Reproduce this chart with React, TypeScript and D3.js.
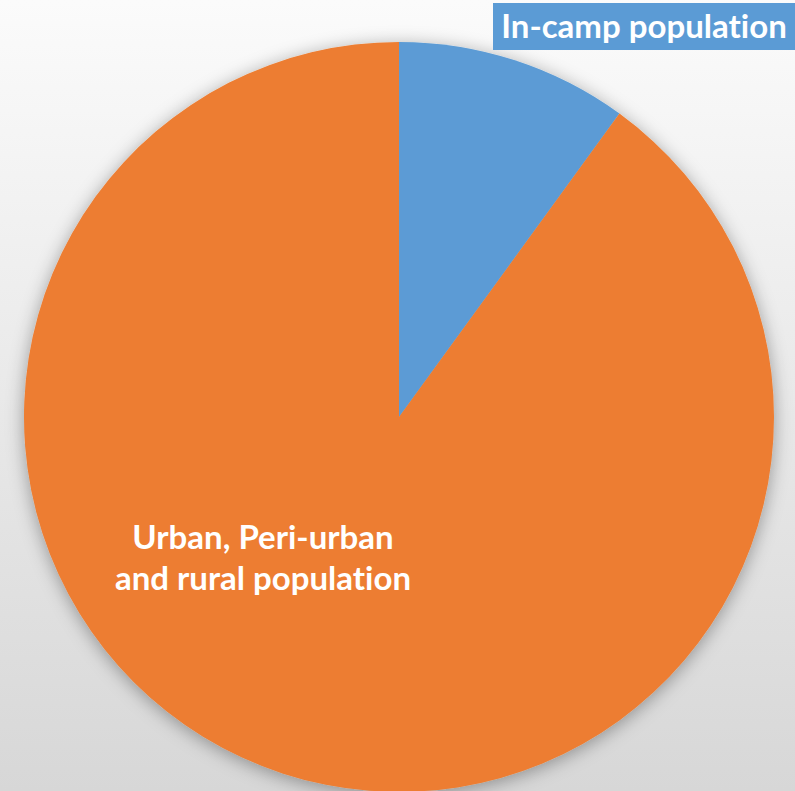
import React, { useEffect, useRef } from 'react';
import * as d3 from 'd3';

const categories = ['In-camp population', 'Urban, Peri-urban and rural population'];
const values = [10, 90];
const colors = ['#5B9BD5', '#ED7D31'];

const W = 795;
const H = 791;

const App = () => {
  const svgRef = useRef<SVGSVGElement>(null);

  useEffect(() => {
    const svg = d3.select(svgRef.current);
    svg.selectAll('*').remove();

    const defs = svg.append('defs');
    const bg = defs.append('linearGradient')
      .attr('id', 'bg')
      .attr('x1', 0).attr('y1', 0).attr('x2', 0).attr('y2', 1);
    bg.append('stop').attr('offset', '0%').attr('stop-color', '#fbfbfb');
    bg.append('stop').attr('offset', '100%').attr('stop-color', '#d7d7d7');

    const shadow = defs.append('filter')
      .attr('id', 'shadow')
      .attr('x', '-20%').attr('y', '-20%').attr('width', '140%').attr('height', '140%');
    shadow.append('feDropShadow')
      .attr('dx', 0).attr('dy', 3)
      .attr('stdDeviation', 9)
      .attr('flood-color', '#000')
      .attr('flood-opacity', 0.35);

    svg.append('rect')
      .attr('width', W).attr('height', H)
      .attr('fill', 'url(#bg)');

    const cx = 399;
    const cy = 417;
    const r = 375;

    const pie = d3.pie<number>().sort(null).value(d => d);
    const arc = d3.arc<d3.PieArcDatum<number>>().innerRadius(0).outerRadius(r);

    const g = svg.append('g')
      .attr('transform', `translate(${cx},${cy})`)
      .attr('filter', 'url(#shadow)');

    g.selectAll('path')
      .data(pie(values))
      .join('path')
        .attr('d', arc)
        .attr('fill', (d, i) => colors[i]);

    // label for in-camp slice (boxed, top right)
    const lab = svg.append('g');
    lab.append('rect')
      .attr('x', 493).attr('y', 3)
      .attr('width', 302).attr('height', 47)
      .attr('fill', colors[0]);
    lab.append('text')
      .attr('x', 644).attr('y', 38)
      .attr('text-anchor', 'middle')
      .attr('fill', '#fff')
      .attr('font-family', 'Lato, "Open Sans", sans-serif')
      .attr('font-weight', 'bold')
      .attr('font-size', 33)
      .style('font-variant-ligatures', 'none')
      .text(categories[0]);

    const lines = ['Urban, Peri-urban', 'and rural population'];
    svg.append('text')
      .attr('text-anchor', 'middle')
      .attr('fill', '#fff')
      .attr('font-family', 'Lato, "Open Sans", sans-serif')
      .attr('font-weight', 'bold')
      .attr('font-size', 33)
      .style('font-variant-ligatures', 'none')
      .selectAll('tspan')
      .data(lines)
      .join('tspan')
        .attr('x', 263)
        .attr('y', (d, i) => 549 + i * 41)
        .text(d => d);
  }, []);

  return (
    <svg
      ref={svgRef}
      width={W}
      height={H}
      style={{ position: 'absolute', left: 0, top: 0, display: 'block' }}
    />
  );
};

export default App;
